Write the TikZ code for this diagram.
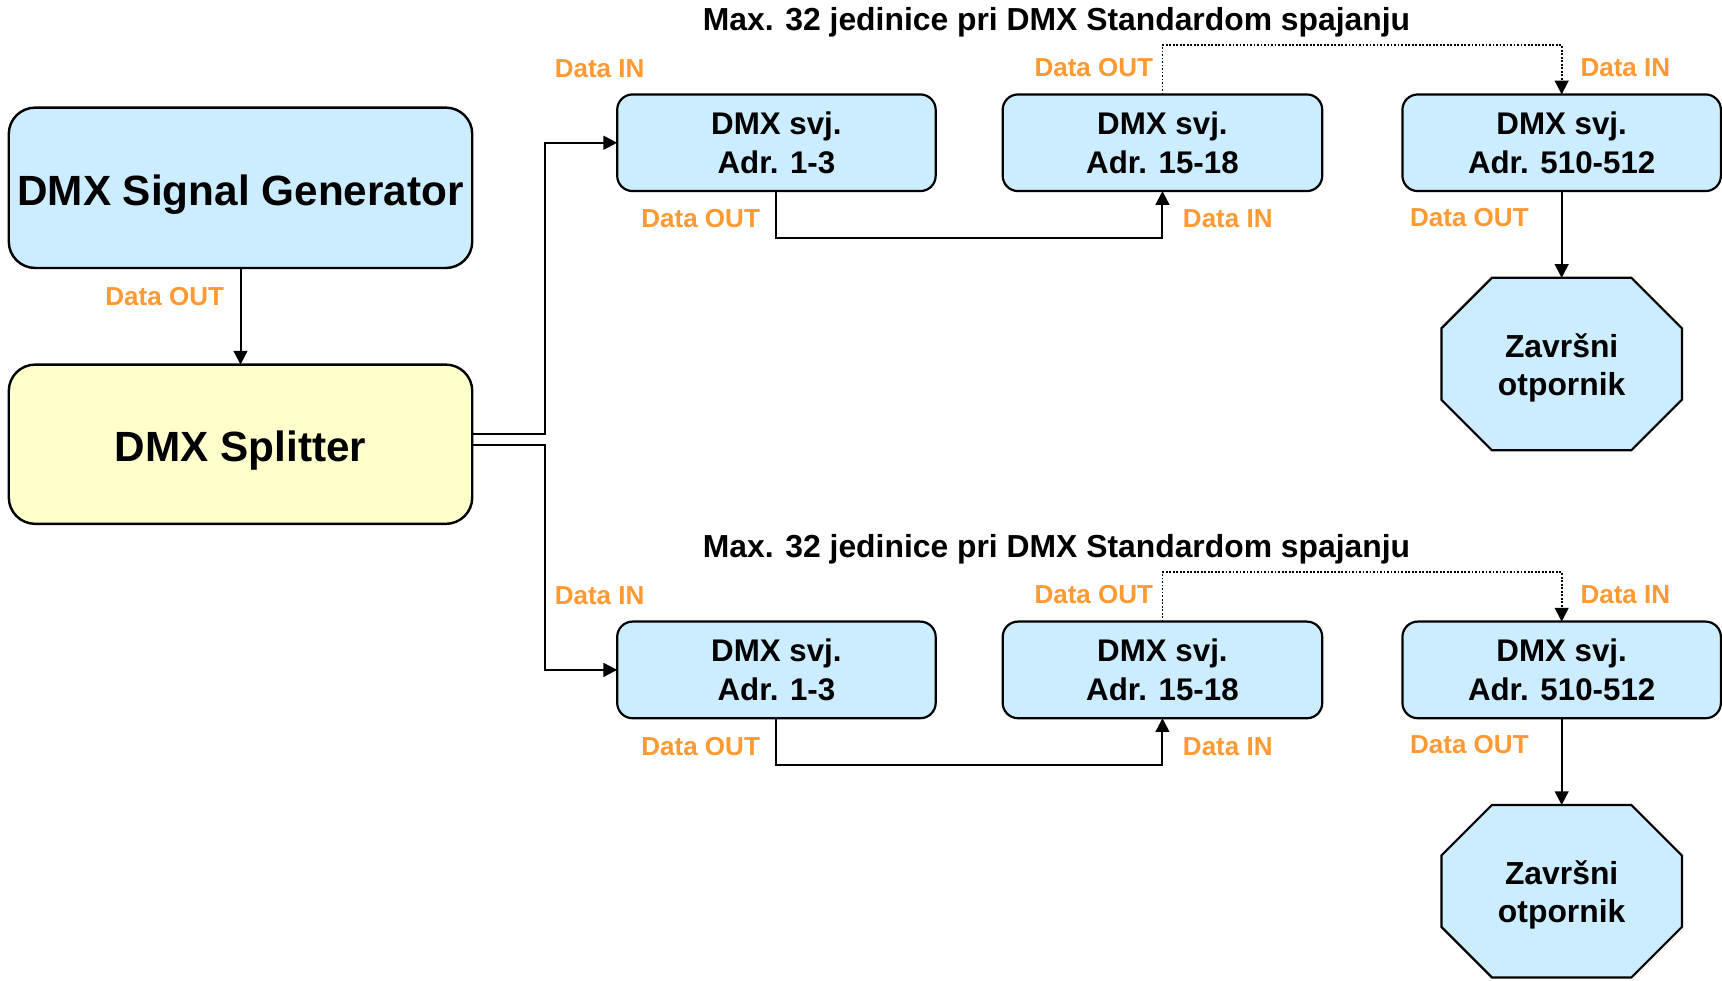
\documentclass[tikz,border=0pt]{standalone}
\usepackage{fontspec}
\setmainfont{Liberation Sans}
\usetikzlibrary{arrows.meta,calc,backgrounds}
\definecolor{boxblue}{HTML}{CCECFF}
\definecolor{boxyellow}{HTML}{FFFFCC}
\definecolor{portorange}{HTML}{FF9933}

\begin{document}
\begin{tikzpicture}[x=1pt,y=-1pt,
  every node/.style={inner sep=0pt,outer sep=0pt},
  bigbox/.style={draw,line width=2.2pt,rounded corners=24pt,
    minimum width=422pt,minimum height=146pt,
    font=\fontsize{38.5}{46}\selectfont\bfseries,text height=31.4pt,text depth=0pt},
  fixture/.style={draw,line width=2pt,fill=boxblue,rounded corners=14pt,
    minimum width=290pt,minimum height=88pt,align=center,
    font=\fontsize{28.5}{35}\selectfont\bfseries},
  terminator/.style={minimum width=219pt,minimum height=157pt,align=center,
    font=\fontsize{29}{35}\selectfont\bfseries},
  octo/.style={draw,line width=2pt,fill=boxblue,line join=miter},
  port/.style={text=portorange,font=\fontsize{23.7}{28}\selectfont\bfseries,
    text height=17pt,text depth=0pt},
  heading/.style={font=\fontsize{29}{35}\selectfont\bfseries,
    text height=20.8pt,text depth=0pt},
  conn/.style={line width=1.8pt,-{Triangle[length=12.5pt,width=12.5pt]}},
  dotwire/.style={line width=1.6pt,dash pattern=on 1.6pt off 1.6pt,
    -{Triangle[length=12.5pt,width=12.5pt]}}
]
\useasboundingbox (0,0) rectangle (1568,893);

% Controller and splitter
\node[bigbox,fill=boxblue] (gen) at (219,171) {DMX Signal Generator};
\node[bigbox,fill=boxyellow,minimum height=145pt] (split) at (219,404.5) {DMX Splitter};
\node[port] (genout) at (150,270) {Data OUT};
\draw[conn] (gen.south) -- (split.north);

% Two daisy-chained lines of fixtures, each ended by a terminator
\foreach \r/\dy in {a/0,b/480}{
  \node[heading] (\r title) at (962,17+\dy) {Max. 32 jedinice pri DMX Standardom spajanju};
  \node[fixture] (\r1) at (707,130+\dy) {DMX svj.\\Adr. 1-3};
  \node[fixture,minimum width=291pt] (\r2) at (1058.5,130+\dy) {DMX svj.\\Adr. 15-18};
  \node[fixture] (\r3) at (1422,130+\dy) {DMX svj.\\Adr. 510-512};
  \node[terminator] (\r t) at (1422,331.5+\dy)
    {\rule{0pt}{32.8pt}Završni\\otpornik\rule[-10pt]{0pt}{10pt}};
  \begin{scope}[on background layer]
    \draw[octo] ($(\r t.north west)+(46,0)$) -- ($(\r t.north east)+(-46,0)$)
      -- ($(\r t.north east)+(0,46)$) -- ($(\r t.south east)+(0,-46)$)
      -- ($(\r t.south east)+(-46,0)$) -- ($(\r t.south west)+(46,0)$)
      -- ($(\r t.south west)+(0,-46)$) -- ($(\r t.north west)+(0,46)$) -- cycle;
  \end{scope}

  \node[port] (\r in1) at (546,62+\dy) {Data IN};
  \node[port] (\r out1) at (638,199+\dy) {Data OUT};
  \node[port] (\r in2) at (1118,199+\dy) {Data IN};
  \node[port] (\r out2) at (996,61+\dy) {Data OUT};
  \node[port] (\r in3) at (1480,61+\dy) {Data IN};
  \node[port] (\r out3) at (1338,198+\dy) {Data OUT};

  \draw[conn] (\r1.south) -- ++(0,43) -| (\r2.south);
  \draw[dotwire] (\r2.north) -- ++(0,-45) -| (\r3.north);
  \draw[conn] (\r3.south) -- (\r t.north);
}

% Splitter outputs feeding both lines
\draw[conn] ([yshift=9.5pt]split.east) -- ++(66,0) |- (a1.west);
\draw[conn] ([yshift=-0.5pt]split.east) -- ++(66,0) |- (b1.west);
\end{tikzpicture}
\end{document}
